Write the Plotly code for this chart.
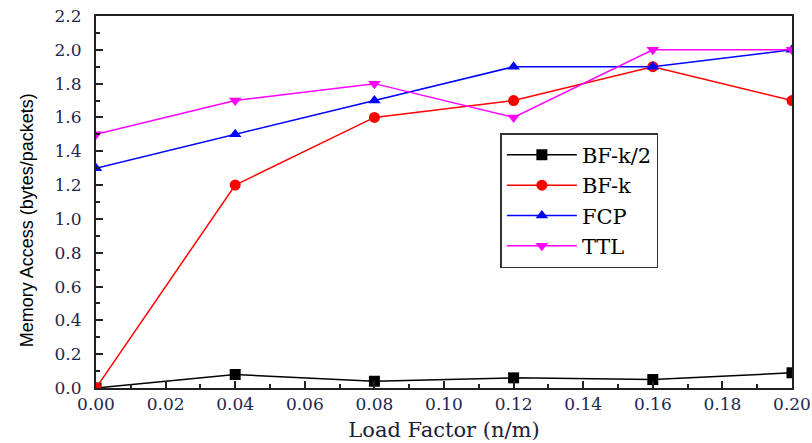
import plotly.graph_objects as go

load_factor = [0.00, 0.04, 0.08, 0.12, 0.16, 0.20]
bf_k2 = [0.00, 0.08, 0.04, 0.06, 0.05, 0.09]
bf_k = [0.00, 1.20, 1.60, 1.70, 1.90, 1.70]
fcp = [1.30, 1.50, 1.70, 1.90, 1.90, 2.00]
ttl = [1.50, 1.70, 1.80, 1.60, 2.00, 2.00]

series = [
    ("BF-k/2", bf_k2, "black", "square"),
    ("BF-k", bf_k, "red", "circle"),
    ("FCP", fcp, "blue", "triangle-up"),
    ("TTL", ttl, "magenta", "triangle-down"),
]

SERIF = "DejaVu Serif, serif"
SANS = "Liberation Sans, Arial, sans-serif"

fig = go.Figure()
for name, ys, color, sym in series:
    fig.add_trace(go.Scatter(
        x=load_factor, y=ys, name=name, mode="lines+markers",
        line=dict(color=color, width=1.5),
        marker=dict(symbol=sym, size=11, color=color),
        cliponaxis=True,
    ))

tick_font = dict(family=SERIF, size=17, color="#1c2850")
fig.update_layout(
    width=812, height=443,
    margin=dict(l=96, r=20, t=16, b=55),
    plot_bgcolor="white", paper_bgcolor="white",
    font=dict(family=SERIF),
    showlegend=True,
    legend=dict(
        x=0.581, y=0.685, xanchor="left", yanchor="top",
        bordercolor="#333333", borderwidth=1.5, bgcolor="white",
        font=dict(family=SERIF, size=21, color="black"),
        tracegroupgap=0, itemwidth=70,
    ),
    annotations=[dict(
        text="Memory Access (bytes/packets)", textangle=-90,
        xref="paper", yref="paper", x=-0.1, y=0.452,
        xanchor="center", yanchor="middle", showarrow=False,
        font=dict(family=SANS, size=18, color="black"),
    )],
)
fig.update_xaxes(
    range=[0, 0.2], dtick=0.02, tickformat=".2f", automargin=False,
    showgrid=False, zeroline=False,
    showline=True, linecolor="#222222", linewidth=2, mirror=True,
    ticks="inside", ticklen=7, tickcolor="#222222", tickwidth=1.5,
    minor=dict(ticks="inside", dtick=0.01, ticklen=4, tickcolor="#222222", tickwidth=1.5),
    tickfont=tick_font,
    title=dict(text="Load Factor (n/m)", font=dict(family=SERIF, size=21, color="#1c2035"), standoff=9),
)
fig.update_yaxes(
    range=[0, 2.2], dtick=0.2, tickformat=".1f", automargin=False,
    showgrid=False, zeroline=False,
    showline=True, linecolor="#222222", linewidth=2, mirror=True,
    ticks="inside", ticklen=7, tickcolor="#222222", tickwidth=1.5,
    minor=dict(ticks="inside", dtick=0.1, ticklen=4, tickcolor="#222222", tickwidth=1.5),
    tickfont=tick_font, ticklabelstandoff=9,
)
fig.write_html("out.html")
